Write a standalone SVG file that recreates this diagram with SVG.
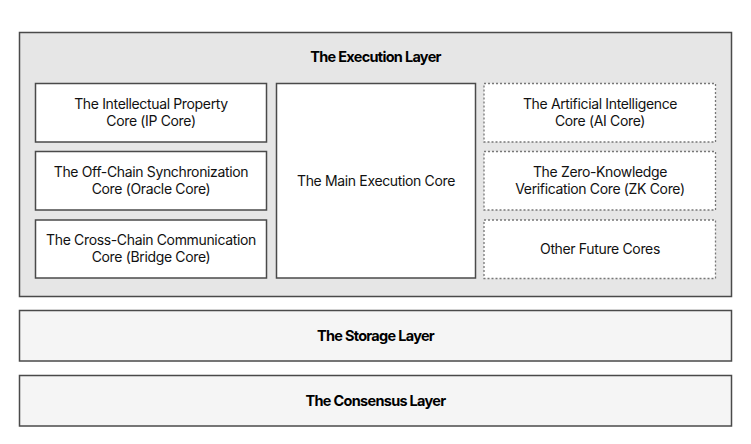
<svg xmlns="http://www.w3.org/2000/svg" width="751" height="444" viewBox="0 0 751 444">
<style>
.layer{stroke:#4a4a4a;stroke-width:1.5}
.box{fill:#ffffff;stroke:#4a4a4a;stroke-width:1.5}
.dash{fill:#ffffff;stroke:#777;stroke-width:1.3;stroke-dasharray:2 2}
.t{font-family:Inter,"Liberation Sans",sans-serif;font-size:14px;fill:#111;text-anchor:middle;letter-spacing:-0.35px}
.b{font-family:Inter,"Liberation Sans",sans-serif;font-size:14.5px;font-weight:700;fill:#000;text-anchor:middle;letter-spacing:-0.7px}
</style>
<rect width="751" height="444" fill="#ffffff"/>
<g id="execution-layer">
<rect class="layer" x="19.5" y="32.5" width="712" height="264" fill="#e6e6e6"/>
<text class="b" x="375.5" y="62">The Execution Layer</text>
</g>
<g id="ip-core">
<rect class="box" x="35.5" y="83.5" width="231" height="58.5"/>
<text class="t" x="151" y="109">The Intellectual Property</text>
<text class="t" x="151" y="125.5">Core (IP Core)</text>
</g>
<g id="oracle-core">
<rect class="box" x="35.5" y="151.5" width="231" height="58.5"/>
<text class="t" x="151" y="177">The Off-Chain Synchronization</text>
<text class="t" x="151" y="193.5">Core (Oracle Core)</text>
</g>
<g id="bridge-core">
<rect class="box" x="35.5" y="220" width="231" height="58"/>
<text class="t" x="151" y="245">The Cross-Chain Communication</text>
<text class="t" x="151" y="261.5">Core (Bridge Core)</text>
</g>
<g id="main-core">
<rect class="box" x="276.5" y="83.5" width="199" height="194.5"/>
<text class="t" x="376" y="186">The Main Execution Core</text>
</g>
<g id="ai-core">
<rect class="dash" x="484" y="83.5" width="231.5" height="58.5"/>
<text class="t" x="600" y="109">The Artificial Intelligence</text>
<text class="t" x="600" y="125.5">Core (AI Core)</text>
</g>
<g id="zk-core">
<rect class="dash" x="484" y="151.5" width="231.5" height="58.5"/>
<text class="t" x="600" y="177">The Zero-Knowledge</text>
<text class="t" x="600" y="193.5">Verification Core (ZK Core)</text>
</g>
<g id="future-cores">
<rect class="dash" x="484" y="220" width="231.5" height="58.5"/>
<text class="t" x="600" y="254">Other Future Cores</text>
</g>
<g id="storage-layer">
<rect class="layer" x="19.5" y="310.5" width="712" height="50.5" fill="#f5f5f5"/>
<text class="b" x="375.5" y="340.5">The Storage Layer</text>
</g>
<g id="consensus-layer">
<rect class="layer" x="19.5" y="375.5" width="712" height="50.5" fill="#f5f5f5"/>
<text class="b" x="375.5" y="405.5">The Consensus Layer</text>
</g>
<g id="connectors"></g>
</svg>
